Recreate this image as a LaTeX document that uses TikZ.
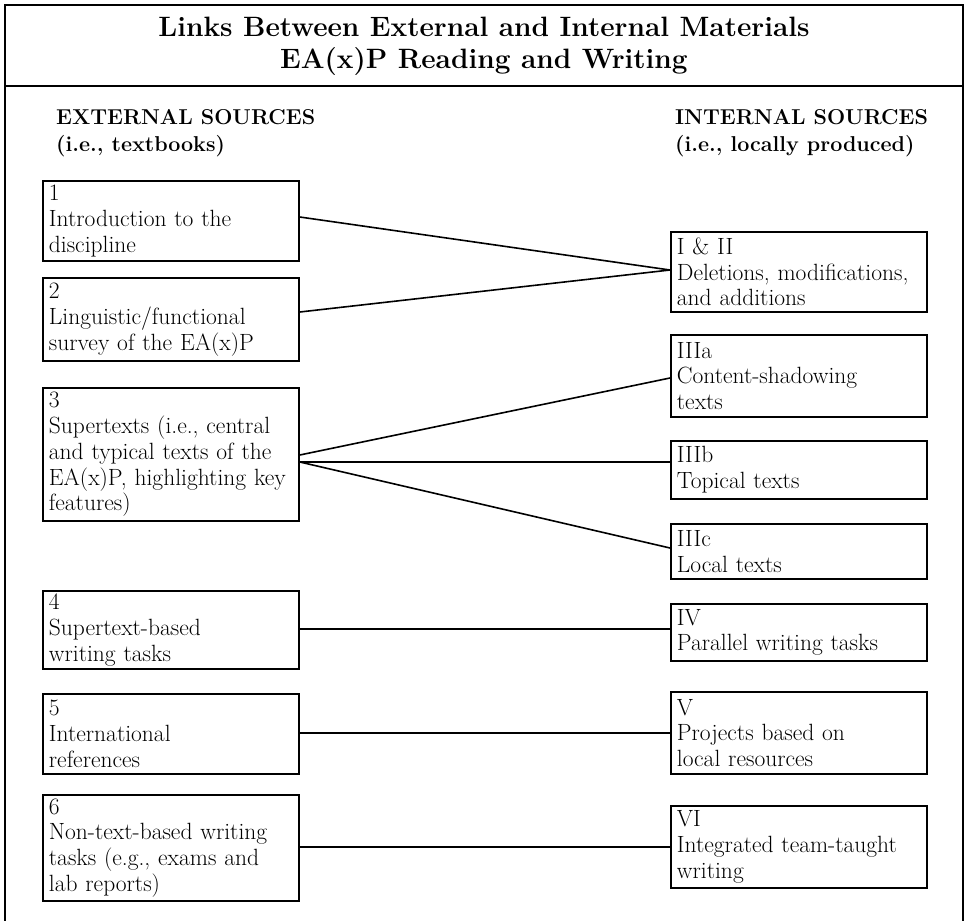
\documentclass[tikz,border=0pt]{standalone}
\usepackage{fontspec}
\begin{document}
\begin{tikzpicture}[x=1pt,y=-1pt,
  frame/.style={line width=2},
  srcbox/.style={draw, line width=1.8, anchor=north west, minimum width=256,
    text width=244, inner xsep=6, inner ysep=0.5, align=left,
    font=\fontsize{23.5}{25.8}\selectfont\addfontfeatures{FakeBold=0.5}},
  link/.style={line width=1.6},
  head/.style={anchor=west, align=left, inner sep=0,
    font=\bfseries\fontsize{21.5}{27}\selectfont},
  ttl/.style={align=center, inner sep=0,
    font=\bfseries\fontsize{28}{32}\selectfont}]
\useasboundingbox (0,0) rectangle (967,921);
% frame
\draw[frame] (5,921) -- (5,5) -- (963,5) -- (963,921);
\draw[line width=2.5] (5,86) -- (963,86);
\node[ttl] (title) at (484,46) {Links Between External and Internal Materials\\EA(x)P Reading and Writing};
% headers
\node[head] (exth) at (56,133.5) {EXTERNAL SOURCES\\(i.e., textbooks)};
\node[head] (inth) at (675,133.5) {INTERNAL SOURCES\\(i.e., locally produced)};
% left boxes
\node[srcbox, minimum height=80] (b1) at (42,180) {1\\Introduction to the\\discipline};
\node[srcbox, minimum height=83] (b2) at (42,277) {2\\Linguistic/functional\\survey of the EA(x)P};
\node[srcbox, minimum height=133] (b3) at (42,387) {3\\Supertexts (i.e., central\\and typical texts of the\\EA(x)P, highlighting key\\features)};
\node[srcbox, minimum height=78] (b4) at (42,590) {4\\Supertext-based\\writing tasks};
\node[srcbox, minimum height=80] (b5) at (42,693) {5\\International\\references};
\node[srcbox, minimum height=106] (b6) at (42,794) {6\\Non-text-based writing\\tasks (e.g., exams and\\lab reports)};
% right boxes
\node[srcbox, minimum height=80] (r12) at (670,231) {I \& II\\Deletions, modifications,\\and additions};
\node[srcbox, minimum height=82] (r3a) at (670,334) {IIIa\\Content-shadowing\\texts};
\node[srcbox, minimum height=58] (r3b) at (670,440) {IIIb\\Topical texts};
\node[srcbox, minimum height=55] (r3c) at (670,523) {IIIc\\Local texts};
\node[srcbox, minimum height=57] (r4) at (670,603) {IV\\Parallel writing tasks};
\node[srcbox, minimum height=82] (r5) at (670,691) {V\\Projects based on\\local resources};
\node[srcbox, minimum height=82] (r6) at (670,805) {VI\\Integrated team-taught\\writing};
% connectors
\draw[link] (b1.east |- 0,217) -- (r12.west |- 0,270);
\draw[link] (b2.east |- 0,312) -- (r12.west |- 0,270);
\draw[link] (b3.east |- 0,455) -- (r3a.west |- 0,378);
\draw[link] (b3.east |- 0,462) -- (r3b.west |- 0,462);
\draw[link] (b3.east |- 0,462) -- (r3c.west |- 0,548);
\draw[link] (b4.east |- 0,629) -- (r4.west |- 0,629);
\draw[link] (b5.east |- 0,733) -- (r5.west |- 0,733);
\draw[link] (b6.east |- 0,847) -- (r6.west |- 0,847);
\end{tikzpicture}
\end{document}
